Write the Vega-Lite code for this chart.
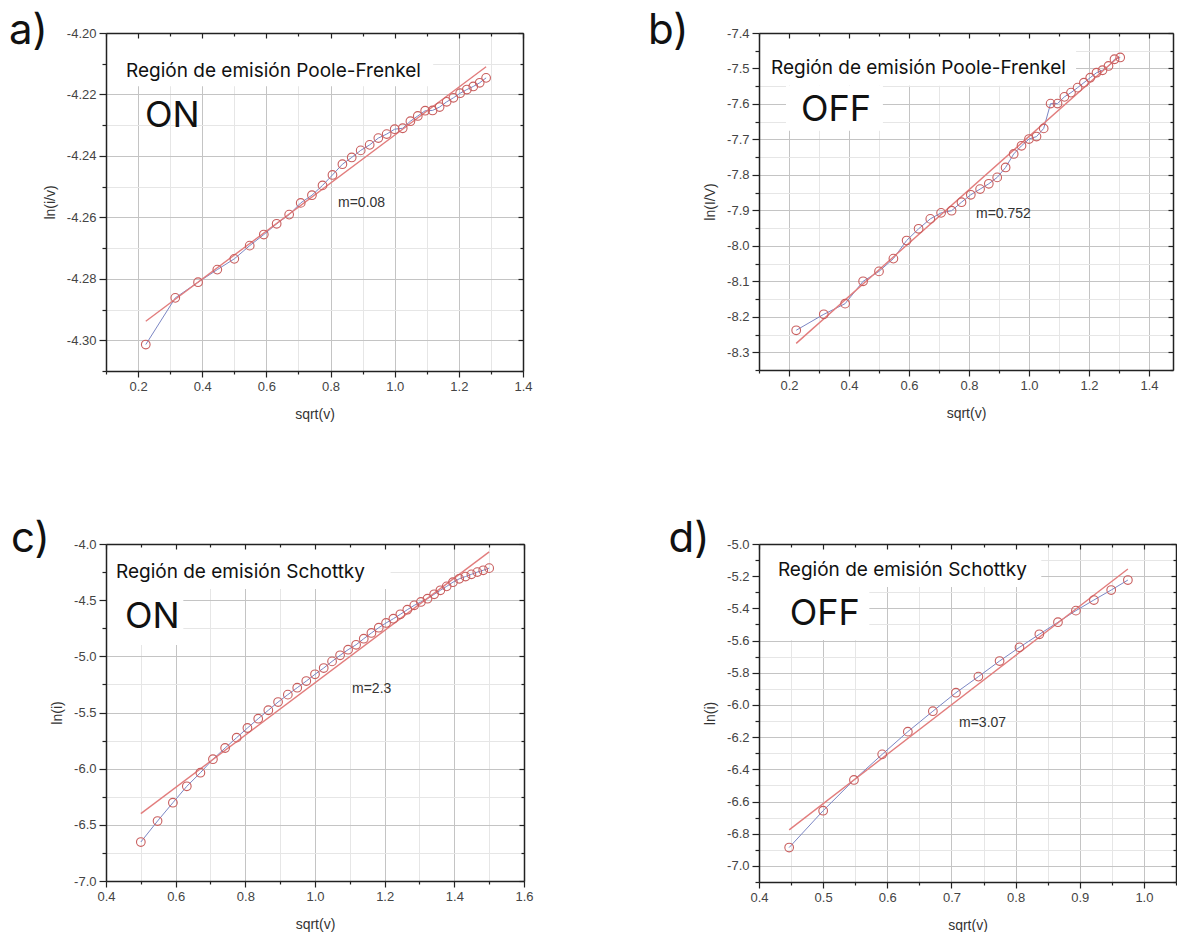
{
  "$schema": "https://vega.github.io/schema/vega-lite/v6.json",
  "background": "white",
  "autosize": {"type": "pad"},
  "padding": {"left": 8, "top": 9, "right": 0, "bottom": 0},
  "config": {
    "view": {"stroke": null},
    "axis": {
      "labelFont": "Liberation Sans", "labelFontSize": 13, "labelColor": "#444",
      "titleFont": "Liberation Sans", "titleFontSize": 14, "titleFontWeight": "normal", "titleColor": "#333",
      "domainColor": "#222", "domainWidth": 1.5, "tickColor": "#222", "tickWidth": 1.2,
      "labelFlush": false, "labelOverlap": false, "grid": false, "labelPadding": 3
    }
  },
  "datasets": {
    "aPts": [
      {"x": 0.224, "y": -4.3014}, {"x": 0.316, "y": -4.2862}, {"x": 0.387, "y": -4.2811}, {"x": 0.447, "y": -4.2770},
      {"x": 0.500, "y": -4.2735}, {"x": 0.548, "y": -4.2692}, {"x": 0.592, "y": -4.2656}, {"x": 0.632, "y": -4.2621},
      {"x": 0.671, "y": -4.2591}, {"x": 0.707, "y": -4.2553}, {"x": 0.742, "y": -4.2528}, {"x": 0.775, "y": -4.2496},
      {"x": 0.806, "y": -4.2462}, {"x": 0.837, "y": -4.2427}, {"x": 0.866, "y": -4.2405}, {"x": 0.894, "y": -4.2382},
      {"x": 0.922, "y": -4.2364}, {"x": 0.949, "y": -4.2342}, {"x": 0.975, "y": -4.2329}, {"x": 1.000, "y": -4.2313},
      {"x": 1.025, "y": -4.2310}, {"x": 1.049, "y": -4.2287}, {"x": 1.072, "y": -4.2270}, {"x": 1.095, "y": -4.2253},
      {"x": 1.118, "y": -4.2252}, {"x": 1.140, "y": -4.2241}, {"x": 1.162, "y": -4.2224}, {"x": 1.183, "y": -4.2211},
      {"x": 1.204, "y": -4.2196}, {"x": 1.225, "y": -4.2184}, {"x": 1.245, "y": -4.2174}, {"x": 1.265, "y": -4.2162},
      {"x": 1.285, "y": -4.2146}
    ],
    "aFit": [{"x": 0.224, "y": -4.2938}, {"x": 1.285, "y": -4.2110}],
    "bPts": [
      {"x": 0.224, "y": -8.238}, {"x": 0.316, "y": -8.193}, {"x": 0.387, "y": -8.163}, {"x": 0.447, "y": -8.100},
      {"x": 0.500, "y": -8.072}, {"x": 0.548, "y": -8.036}, {"x": 0.592, "y": -7.985}, {"x": 0.632, "y": -7.952},
      {"x": 0.671, "y": -7.924}, {"x": 0.707, "y": -7.907}, {"x": 0.742, "y": -7.901}, {"x": 0.775, "y": -7.877},
      {"x": 0.806, "y": -7.856}, {"x": 0.837, "y": -7.840}, {"x": 0.866, "y": -7.825}, {"x": 0.894, "y": -7.807},
      {"x": 0.922, "y": -7.779}, {"x": 0.949, "y": -7.741}, {"x": 0.975, "y": -7.718}, {"x": 1.000, "y": -7.699},
      {"x": 1.025, "y": -7.692}, {"x": 1.049, "y": -7.669}, {"x": 1.072, "y": -7.599}, {"x": 1.095, "y": -7.599},
      {"x": 1.118, "y": -7.580}, {"x": 1.140, "y": -7.568}, {"x": 1.162, "y": -7.554}, {"x": 1.183, "y": -7.540},
      {"x": 1.204, "y": -7.526}, {"x": 1.225, "y": -7.512}, {"x": 1.245, "y": -7.505}, {"x": 1.265, "y": -7.493},
      {"x": 1.285, "y": -7.474}, {"x": 1.304, "y": -7.469}
    ],
    "bFit": [{"x": 0.224, "y": -8.275}, {"x": 1.300, "y": -7.466}],
    "cPts": [
      {"x": 0.500, "y": -6.653}, {"x": 0.548, "y": -6.466}, {"x": 0.592, "y": -6.303}, {"x": 0.632, "y": -6.157},
      {"x": 0.671, "y": -6.036}, {"x": 0.707, "y": -5.916}, {"x": 0.742, "y": -5.816}, {"x": 0.775, "y": -5.724},
      {"x": 0.806, "y": -5.638}, {"x": 0.837, "y": -5.555}, {"x": 0.866, "y": -5.480}, {"x": 0.894, "y": -5.407},
      {"x": 0.922, "y": -5.341}, {"x": 0.949, "y": -5.279}, {"x": 0.975, "y": -5.220}, {"x": 1.000, "y": -5.160},
      {"x": 1.025, "y": -5.104}, {"x": 1.049, "y": -5.045}, {"x": 1.072, "y": -4.991}, {"x": 1.095, "y": -4.941},
      {"x": 1.118, "y": -4.897}, {"x": 1.140, "y": -4.843}, {"x": 1.162, "y": -4.792}, {"x": 1.183, "y": -4.745},
      {"x": 1.204, "y": -4.703}, {"x": 1.225, "y": -4.665}, {"x": 1.245, "y": -4.626}, {"x": 1.265, "y": -4.585},
      {"x": 1.285, "y": -4.546}, {"x": 1.304, "y": -4.516}, {"x": 1.323, "y": -4.487}, {"x": 1.342, "y": -4.448},
      {"x": 1.360, "y": -4.412}, {"x": 1.378, "y": -4.377}, {"x": 1.396, "y": -4.340}, {"x": 1.414, "y": -4.310},
      {"x": 1.432, "y": -4.290}, {"x": 1.449, "y": -4.270}, {"x": 1.466, "y": -4.250}, {"x": 1.483, "y": -4.234},
      {"x": 1.500, "y": -4.215}
    ],
    "cFit": [{"x": 0.500, "y": -6.40}, {"x": 1.500, "y": -4.07}],
    "dPts": [
      {"x": 0.447, "y": -6.886}, {"x": 0.500, "y": -6.657}, {"x": 0.548, "y": -6.466}, {"x": 0.592, "y": -6.307},
      {"x": 0.632, "y": -6.166}, {"x": 0.671, "y": -6.039}, {"x": 0.707, "y": -5.924}, {"x": 0.742, "y": -5.824},
      {"x": 0.775, "y": -5.727}, {"x": 0.806, "y": -5.642}, {"x": 0.837, "y": -5.561}, {"x": 0.866, "y": -5.486},
      {"x": 0.894, "y": -5.414}, {"x": 0.922, "y": -5.348}, {"x": 0.949, "y": -5.286}, {"x": 0.975, "y": -5.224}
    ],
    "dFit": [{"x": 0.447, "y": -6.776}, {"x": 0.975, "y": -5.155}]
  },
  "columns": 2,
  "spacing": {"row": 173, "column": 235},
  "bounds": "flush",
  "concat": [
    {
      "width": 417, "height": 338,
      "layer": [
        {"data": {"values": [{}]}, "mark": {"type": "rect", "color": "white"},
         "encoding": {"x": {"datum": 0.1, "type": "quantitative", "scale": {"domain": [0.1, 1.4], "nice": false, "zero": false}, "axis": null}, "x2": {"datum": 1.12},
                      "y": {"datum": -4.2173, "type": "quantitative", "scale": {"domain": [-4.31, -4.2], "nice": false, "zero": false}, "axis": null}, "y2": {"datum": -4.2}}},
        {"data": {"name": "aPts"}, "mark": {"type": "line", "color": "#7b86c4", "strokeWidth": 1},
         "encoding": {
           "x": {"field": "x", "type": "quantitative", "scale": {"domain": [0.1, 1.4], "nice": false, "zero": false},
                 "axis": {"orient": "bottom", "values": [0.1,0.2,0.3,0.4,0.5,0.6,0.7,0.8,0.9,1.0,1.1,1.2,1.3,1.4], "grid": true, "ticks": false, "labels": false, "domain": false, "title": null, "zindex": 0,
                          "gridColor": {"condition": {"test": "round(datum.value*10)%2===0", "value": "#c4c4c4"}, "value": "#e6e6e6"}}},
           "y": {"field": "y", "type": "quantitative", "scale": {"domain": [-4.31, -4.2], "nice": false, "zero": false},
                 "axis": {"orient": "left", "values": [-4.31,-4.3,-4.29,-4.28,-4.27,-4.26,-4.25,-4.24,-4.23,-4.22,-4.21,-4.2], "grid": true, "ticks": false, "labels": false, "domain": false, "title": null, "zindex": 0,
                          "gridColor": {"condition": {"test": "round(datum.value*100)%2===0", "value": "#c4c4c4"}, "value": "#e6e6e6"}}}}},
        {"data": {"name": "aFit"}, "mark": {"type": "line", "color": "#e27d7d", "strokeWidth": 1.4},
         "encoding": {
           "x": {"field": "x", "type": "quantitative", "scale": {"domain": [0.1, 1.4], "nice": false, "zero": false},
                 "axis": {"orient": "top", "values": [0.1,0.2,0.3,0.4,0.5,0.6,0.7,0.8,0.9,1.0,1.1,1.2,1.3,1.4], "labels": false, "title": null, "zindex": 1,
                          "tickSize": {"condition": {"test": "round(datum.value*10)%2===0", "value": -5}, "value": -3}}},
           "y": {"field": "y", "type": "quantitative", "scale": {"domain": [-4.31, -4.2], "nice": false, "zero": false},
                 "axis": {"orient": "right", "values": [-4.31,-4.3,-4.29,-4.28,-4.27,-4.26,-4.25,-4.24,-4.23,-4.22,-4.21,-4.2], "labels": false, "title": null, "zindex": 1,
                          "tickSize": {"condition": {"test": "round(datum.value*100)%2===0", "value": -5}, "value": -3}}}}},
        {"data": {"name": "aPts"}, "mark": {"type": "point", "shape": "circle", "filled": false, "size": 75, "color": "#c95f5f", "strokeWidth": 1.1, "opacity": 1},
         "encoding": {
           "x": {"field": "x", "type": "quantitative", "scale": {"domain": [0.1, 1.4], "nice": false, "zero": false},
                 "axis": {"orient": "bottom", "values": [0.1,0.2,0.3,0.4,0.5,0.6,0.7,0.8,0.9,1.0,1.1,1.2,1.3,1.4], "title": "sqrt(v)", "titlePadding": 14, "zindex": 1,
                          "labelExpr": "round(datum.value*10)%2===0 ? format(datum.value,'.1f') : ''",
                          "tickSize": {"condition": {"test": "round(datum.value*10)%2===0", "value": 6}, "value": 3}}},
           "y": {"field": "y", "type": "quantitative", "scale": {"domain": [-4.31, -4.2], "nice": false, "zero": false},
                 "axis": {"orient": "left", "values": [-4.31,-4.3,-4.29,-4.28,-4.27,-4.26,-4.25,-4.24,-4.23,-4.22,-4.21,-4.2], "title": "ln(i/v)", "titlePadding": 9, "zindex": 1,
                          "labelExpr": "round(datum.value*100)%2===0 ? '-' + format(abs(datum.value),'.2f') : ''",
                          "tickSize": {"condition": {"test": "round(datum.value*100)%2===0", "value": 7}, "value": 4}}}}},
        {"data": {"values": [{}]}, "mark": {"type": "text", "text": "Región de emisión Poole-Frenkel", "align": "left", "baseline": "middle", "font": "Inter", "fontSize": 19, "color": "#111"},
         "encoding": {"x": {"datum": 0.1624, "type": "quantitative", "scale": {"domain": [0.1, 1.4], "nice": false, "zero": false}, "axis": null},
                      "y": {"datum": -4.2124, "type": "quantitative", "scale": {"domain": [-4.31, -4.2], "nice": false, "zero": false}, "axis": null}}},
        {"data": {"values": [{}]}, "mark": {"type": "text", "text": "ON", "align": "left", "baseline": "middle", "font": "Inter", "fontSize": 36, "color": "#111"},
         "encoding": {"x": {"datum": 0.2216, "type": "quantitative", "scale": {"domain": [0.1, 1.4], "nice": false, "zero": false}, "axis": null},
                      "y": {"datum": -4.227, "type": "quantitative", "scale": {"domain": [-4.31, -4.2], "nice": false, "zero": false}, "axis": null}}},
        {"data": {"values": [{}]}, "mark": {"type": "text", "text": "m=0.08", "align": "left", "baseline": "middle", "font": "Liberation Sans", "fontSize": 14, "color": "#333"},
         "encoding": {"x": {"datum": 0.8233, "type": "quantitative", "scale": {"domain": [0.1, 1.4], "nice": false, "zero": false}, "axis": null},
                      "y": {"datum": -4.2553, "type": "quantitative", "scale": {"domain": [-4.31, -4.2], "nice": false, "zero": false}, "axis": null}}},
        {"data": {"values": [{}]}, "mark": {"type": "text", "text": "a)", "align": "left", "baseline": "alphabetic", "font": "Inter", "fontSize": 42, "color": "#111"},
         "encoding": {"x": {"datum": -0.2024, "type": "quantitative", "scale": {"domain": [0.1, 1.4], "nice": false, "zero": false}, "axis": null},
                      "y": {"datum": -4.2036, "type": "quantitative", "scale": {"domain": [-4.31, -4.2], "nice": false, "zero": false}, "axis": null}}}
      ],
      "resolve": {"axis": {"x": "independent", "y": "independent"}}
    },
    {
      "width": 414, "height": 337,
      "layer": [
        {"data": {"values": [{}]}, "mark": {"type": "rect", "color": "white"},
         "encoding": {"x": {"datum": 0.1, "type": "quantitative", "scale": {"domain": [0.1, 1.48], "nice": false, "zero": false}, "axis": null}, "x2": {"datum": 1.157},
                      "y": {"datum": -7.549, "type": "quantitative", "scale": {"domain": [-8.35, -7.4], "nice": false, "zero": false}, "axis": null}, "y2": {"datum": -7.4}}},
        {"data": {"values": [{}]}, "mark": {"type": "rect", "color": "white"},
         "encoding": {"x": {"datum": 0.19, "type": "quantitative", "scale": {"domain": [0.1, 1.48], "nice": false, "zero": false}, "axis": null}, "x2": {"datum": 0.513},
                      "y": {"datum": -7.6756, "type": "quantitative", "scale": {"domain": [-8.35, -7.4], "nice": false, "zero": false}, "axis": null}, "y2": {"datum": -7.549}}},
        {"data": {"name": "bPts"}, "mark": {"type": "line", "color": "#7b86c4", "strokeWidth": 1},
         "encoding": {
           "x": {"field": "x", "type": "quantitative", "scale": {"domain": [0.1, 1.48], "nice": false, "zero": false},
                 "axis": {"orient": "bottom", "values": [0.1,0.2,0.3,0.4,0.5,0.6,0.7,0.8,0.9,1.0,1.1,1.2,1.3,1.4], "grid": true, "ticks": false, "labels": false, "domain": false, "title": null, "zindex": 0,
                          "gridColor": {"condition": {"test": "round(datum.value*10)%2===0", "value": "#c4c4c4"}, "value": "#e6e6e6"}}},
           "y": {"field": "y", "type": "quantitative", "scale": {"domain": [-8.35, -7.4], "nice": false, "zero": false},
                 "axis": {"orient": "left", "values": [-8.35,-8.3,-8.25,-8.2,-8.15,-8.1,-8.05,-8.0,-7.95,-7.9,-7.85,-7.8,-7.75,-7.7,-7.65,-7.6,-7.55,-7.5,-7.45,-7.4], "grid": true, "ticks": false, "labels": false, "domain": false, "title": null, "zindex": 0,
                          "gridColor": {"condition": {"test": "round(datum.value*20)%2===0", "value": "#c4c4c4"}, "value": "#e6e6e6"}}}}},
        {"data": {"name": "bFit"}, "mark": {"type": "line", "color": "#e27d7d", "strokeWidth": 1.4},
         "encoding": {
           "x": {"field": "x", "type": "quantitative", "scale": {"domain": [0.1, 1.48], "nice": false, "zero": false},
                 "axis": {"orient": "top", "values": [0.1,0.2,0.3,0.4,0.5,0.6,0.7,0.8,0.9,1.0,1.1,1.2,1.3,1.4], "labels": false, "title": null, "zindex": 1,
                          "tickSize": {"condition": {"test": "round(datum.value*10)%2===0", "value": -5}, "value": -3}}},
           "y": {"field": "y", "type": "quantitative", "scale": {"domain": [-8.35, -7.4], "nice": false, "zero": false},
                 "axis": {"orient": "right", "values": [-8.35,-8.3,-8.25,-8.2,-8.15,-8.1,-8.05,-8.0,-7.95,-7.9,-7.85,-7.8,-7.75,-7.7,-7.65,-7.6,-7.55,-7.5,-7.45,-7.4], "labels": false, "title": null, "zindex": 1,
                          "tickSize": {"condition": {"test": "round(datum.value*20)%2===0", "value": -5}, "value": -3}}}}},
        {"data": {"name": "bPts"}, "mark": {"type": "point", "shape": "circle", "filled": false, "size": 75, "color": "#c95f5f", "strokeWidth": 1.1, "opacity": 1},
         "encoding": {
           "x": {"field": "x", "type": "quantitative", "scale": {"domain": [0.1, 1.48], "nice": false, "zero": false},
                 "axis": {"orient": "bottom", "values": [0.1,0.2,0.3,0.4,0.5,0.6,0.7,0.8,0.9,1.0,1.1,1.2,1.3,1.4], "title": "sqrt(v)", "titlePadding": 14, "zindex": 1,
                          "labelExpr": "round(datum.value*10)%2===0 ? format(datum.value,'.1f') : ''",
                          "tickSize": {"condition": {"test": "round(datum.value*10)%2===0", "value": 6}, "value": 3}}},
           "y": {"field": "y", "type": "quantitative", "scale": {"domain": [-8.35, -7.4], "nice": false, "zero": false},
                 "axis": {"orient": "left", "values": [-8.35,-8.3,-8.25,-8.2,-8.15,-8.1,-8.05,-8.0,-7.95,-7.9,-7.85,-7.8,-7.75,-7.7,-7.65,-7.6,-7.55,-7.5,-7.45,-7.4], "title": "ln(I/V)", "titlePadding": 9, "zindex": 1,
                          "labelExpr": "round(datum.value*20)%2===0 ? '-' + format(abs(datum.value),'.1f') : ''",
                          "tickSize": {"condition": {"test": "round(datum.value*20)%2===0", "value": 7}, "value": 4}}}}},
        {"data": {"values": [{}]}, "mark": {"type": "text", "text": "Región de emisión Poole-Frenkel", "align": "left", "baseline": "middle", "font": "Inter", "fontSize": 19, "color": "#111"},
         "encoding": {"x": {"datum": 0.14, "type": "quantitative", "scale": {"domain": [0.1, 1.48], "nice": false, "zero": false}, "axis": null},
                      "y": {"datum": -7.4987, "type": "quantitative", "scale": {"domain": [-8.35, -7.4], "nice": false, "zero": false}, "axis": null}}},
        {"data": {"values": [{}]}, "mark": {"type": "text", "text": "OFF", "align": "left", "baseline": "middle", "font": "Inter", "fontSize": 36, "color": "#111"},
         "encoding": {"x": {"datum": 0.24, "type": "quantitative", "scale": {"domain": [0.1, 1.48], "nice": false, "zero": false}, "axis": null},
                      "y": {"datum": -7.617, "type": "quantitative", "scale": {"domain": [-8.35, -7.4], "nice": false, "zero": false}, "axis": null}}},
        {"data": {"values": [{}]}, "mark": {"type": "text", "text": "m=0.752", "align": "left", "baseline": "middle", "font": "Liberation Sans", "fontSize": 14, "color": "#333"},
         "encoding": {"x": {"datum": 0.8233, "type": "quantitative", "scale": {"domain": [0.1, 1.48], "nice": false, "zero": false}, "axis": null},
                      "y": {"datum": -7.91, "type": "quantitative", "scale": {"domain": [-8.35, -7.4], "nice": false, "zero": false}, "axis": null}}},
        {"data": {"values": [{}]}, "mark": {"type": "text", "text": "b)", "align": "left", "baseline": "alphabetic", "font": "Inter", "fontSize": 42, "color": "#111"},
         "encoding": {"x": {"datum": -0.27, "type": "quantitative", "scale": {"domain": [0.1, 1.48], "nice": false, "zero": false}, "axis": null},
                      "y": {"datum": -7.431, "type": "quantitative", "scale": {"domain": [-8.35, -7.4], "nice": false, "zero": false}, "axis": null}}}
      ],
      "resolve": {"axis": {"x": "independent", "y": "independent"}}
    },
    {
      "width": 418, "height": 337,
      "layer": [
        {"data": {"values": [{}]}, "mark": {"type": "rect", "color": "white"},
         "encoding": {"x": {"datum": 0.4, "type": "quantitative", "scale": {"domain": [0.4, 1.6], "nice": false, "zero": false}, "axis": null}, "x2": {"datum": 1.217},
                      "y": {"datum": -4.40, "type": "quantitative", "scale": {"domain": [-7.0, -4.0], "nice": false, "zero": false}, "axis": null}, "y2": {"datum": -4.0}}},
        {"data": {"values": [{}]}, "mark": {"type": "rect", "color": "white"},
         "encoding": {"x": {"datum": 0.4, "type": "quantitative", "scale": {"domain": [0.4, 1.6], "nice": false, "zero": false}, "axis": null}, "x2": {"datum": 0.622},
                      "y": {"datum": -4.899, "type": "quantitative", "scale": {"domain": [-7.0, -4.0], "nice": false, "zero": false}, "axis": null}, "y2": {"datum": -4.40}}},
        {"data": {"name": "cPts"}, "mark": {"type": "line", "color": "#7b86c4", "strokeWidth": 1},
         "encoding": {
           "x": {"field": "x", "type": "quantitative", "scale": {"domain": [0.4, 1.6], "nice": false, "zero": false},
                 "axis": {"orient": "bottom", "values": [0.4,0.5,0.6,0.7,0.8,0.9,1.0,1.1,1.2,1.3,1.4,1.5,1.6], "grid": true, "ticks": false, "labels": false, "domain": false, "title": null, "zindex": 0,
                          "gridColor": {"condition": {"test": "round(datum.value*10)%2===0", "value": "#c4c4c4"}, "value": "#e6e6e6"}}},
           "y": {"field": "y", "type": "quantitative", "scale": {"domain": [-7.0, -4.0], "nice": false, "zero": false},
                 "axis": {"orient": "left", "values": [-7.0,-6.75,-6.5,-6.25,-6.0,-5.75,-5.5,-5.25,-5.0,-4.75,-4.5,-4.25,-4.0], "grid": true, "ticks": false, "labels": false, "domain": false, "title": null, "zindex": 0,
                          "gridColor": {"condition": {"test": "round(datum.value*4)%2===0", "value": "#c4c4c4"}, "value": "#e6e6e6"}}}}},
        {"data": {"name": "cFit"}, "mark": {"type": "line", "color": "#e27d7d", "strokeWidth": 1.4},
         "encoding": {
           "x": {"field": "x", "type": "quantitative", "scale": {"domain": [0.4, 1.6], "nice": false, "zero": false},
                 "axis": {"orient": "top", "values": [0.4,0.5,0.6,0.7,0.8,0.9,1.0,1.1,1.2,1.3,1.4,1.5,1.6], "labels": false, "title": null, "zindex": 1,
                          "tickSize": {"condition": {"test": "round(datum.value*10)%2===0", "value": -5}, "value": -3}}},
           "y": {"field": "y", "type": "quantitative", "scale": {"domain": [-7.0, -4.0], "nice": false, "zero": false},
                 "axis": {"orient": "right", "values": [-7.0,-6.75,-6.5,-6.25,-6.0,-5.75,-5.5,-5.25,-5.0,-4.75,-4.5,-4.25,-4.0], "labels": false, "title": null, "zindex": 1,
                          "tickSize": {"condition": {"test": "round(datum.value*4)%2===0", "value": -5}, "value": -3}}}}},
        {"data": {"name": "cPts"}, "mark": {"type": "point", "shape": "circle", "filled": false, "size": 75, "color": "#c95f5f", "strokeWidth": 1.1, "opacity": 1},
         "encoding": {
           "x": {"field": "x", "type": "quantitative", "scale": {"domain": [0.4, 1.6], "nice": false, "zero": false},
                 "axis": {"orient": "bottom", "values": [0.4,0.5,0.6,0.7,0.8,0.9,1.0,1.1,1.2,1.3,1.4,1.5,1.6], "title": "sqrt(v)", "titlePadding": 14, "zindex": 1,
                          "labelExpr": "round(datum.value*10)%2===0 ? format(datum.value,'.1f') : ''",
                          "tickSize": {"condition": {"test": "round(datum.value*10)%2===0", "value": 6}, "value": 3}}},
           "y": {"field": "y", "type": "quantitative", "scale": {"domain": [-7.0, -4.0], "nice": false, "zero": false},
                 "axis": {"orient": "left", "values": [-7.0,-6.75,-6.5,-6.25,-6.0,-5.75,-5.5,-5.25,-5.0,-4.75,-4.5,-4.25,-4.0], "title": "ln(i)", "titlePadding": 9, "zindex": 1,
                          "labelExpr": "round(datum.value*4)%2===0 ? '-' + format(abs(datum.value),'.1f') : ''",
                          "tickSize": {"condition": {"test": "round(datum.value*4)%2===0", "value": 7}, "value": 4}}}}},
        {"data": {"values": [{}]}, "mark": {"type": "text", "text": "Región de emisión Schottky", "align": "left", "baseline": "middle", "font": "Inter", "fontSize": 19, "color": "#111"},
         "encoding": {"x": {"datum": 0.4287, "type": "quantitative", "scale": {"domain": [0.4, 1.6], "nice": false, "zero": false}, "axis": null},
                      "y": {"datum": -4.249, "type": "quantitative", "scale": {"domain": [-7.0, -4.0], "nice": false, "zero": false}, "axis": null}}},
        {"data": {"values": [{}]}, "mark": {"type": "text", "text": "ON", "align": "left", "baseline": "middle", "font": "Inter", "fontSize": 36, "color": "#111"},
         "encoding": {"x": {"datum": 0.4545, "type": "quantitative", "scale": {"domain": [0.4, 1.6], "nice": false, "zero": false}, "axis": null},
                      "y": {"datum": -4.65, "type": "quantitative", "scale": {"domain": [-7.0, -4.0], "nice": false, "zero": false}, "axis": null}}},
        {"data": {"values": [{}]}, "mark": {"type": "text", "text": "m=2.3", "align": "left", "baseline": "middle", "font": "Liberation Sans", "fontSize": 14, "color": "#333"},
         "encoding": {"x": {"datum": 1.1063, "type": "quantitative", "scale": {"domain": [0.4, 1.6], "nice": false, "zero": false}, "axis": null},
                      "y": {"datum": -5.291, "type": "quantitative", "scale": {"domain": [-7.0, -4.0], "nice": false, "zero": false}, "axis": null}}},
        {"data": {"values": [{}]}, "mark": {"type": "text", "text": "c)", "align": "left", "baseline": "alphabetic", "font": "Inter", "fontSize": 42, "color": "#111"},
         "encoding": {"x": {"datum": 0.1272, "type": "quantitative", "scale": {"domain": [0.4, 1.6], "nice": false, "zero": false}, "axis": null},
                      "y": {"datum": -4.0712, "type": "quantitative", "scale": {"domain": [-7.0, -4.0], "nice": false, "zero": false}, "axis": null}}}
      ],
      "resolve": {"axis": {"x": "independent", "y": "independent"}}
    },
    {
      "width": 417, "height": 338,
      "layer": [
        {"data": {"values": [{}]}, "mark": {"type": "rect", "color": "white"},
         "encoding": {"x": {"datum": 0.4, "type": "quantitative", "scale": {"domain": [0.4, 1.05], "nice": false, "zero": false}, "axis": null}, "x2": {"datum": 0.84},
                      "y": {"datum": -5.267, "type": "quantitative", "scale": {"domain": [-7.1, -5.0], "nice": false, "zero": false}, "axis": null}, "y2": {"datum": -5.0}}},
        {"data": {"values": [{}]}, "mark": {"type": "rect", "color": "white"},
         "encoding": {"x": {"datum": 0.4, "type": "quantitative", "scale": {"domain": [0.4, 1.05], "nice": false, "zero": false}, "axis": null}, "x2": {"datum": 0.572},
                      "y": {"datum": -5.596, "type": "quantitative", "scale": {"domain": [-7.1, -5.0], "nice": false, "zero": false}, "axis": null}, "y2": {"datum": -5.267}}},
        {"data": {"name": "dPts"}, "mark": {"type": "line", "color": "#7b86c4", "strokeWidth": 1},
         "encoding": {
           "x": {"field": "x", "type": "quantitative", "scale": {"domain": [0.4, 1.05], "nice": false, "zero": false},
                 "axis": {"orient": "bottom", "values": [0.4,0.45,0.5,0.55,0.6,0.65,0.7,0.75,0.8,0.85,0.9,0.95,1.0,1.05], "grid": true, "ticks": false, "labels": false, "domain": false, "title": null, "zindex": 0,
                          "gridColor": {"condition": {"test": "round(datum.value*20)%2===0", "value": "#c4c4c4"}, "value": "#e6e6e6"}}},
           "y": {"field": "y", "type": "quantitative", "scale": {"domain": [-7.1, -5.0], "nice": false, "zero": false},
                 "axis": {"orient": "left", "values": [-7.1,-7.0,-6.9,-6.8,-6.7,-6.6,-6.5,-6.4,-6.3,-6.2,-6.1,-6.0,-5.9,-5.8,-5.7,-5.6,-5.5,-5.4,-5.3,-5.2,-5.1,-5.0], "grid": true, "ticks": false, "labels": false, "domain": false, "title": null, "zindex": 0,
                          "gridColor": {"condition": {"test": "round(datum.value*10)%2===0", "value": "#c4c4c4"}, "value": "#e6e6e6"}}}}},
        {"data": {"name": "dFit"}, "mark": {"type": "line", "color": "#e27d7d", "strokeWidth": 1.4},
         "encoding": {
           "x": {"field": "x", "type": "quantitative", "scale": {"domain": [0.4, 1.05], "nice": false, "zero": false},
                 "axis": {"orient": "top", "values": [0.4,0.45,0.5,0.55,0.6,0.65,0.7,0.75,0.8,0.85,0.9,0.95,1.0,1.05], "labels": false, "title": null, "zindex": 1,
                          "tickSize": {"condition": {"test": "round(datum.value*20)%2===0", "value": -5}, "value": -3}}},
           "y": {"field": "y", "type": "quantitative", "scale": {"domain": [-7.1, -5.0], "nice": false, "zero": false},
                 "axis": {"orient": "right", "values": [-7.1,-7.0,-6.9,-6.8,-6.7,-6.6,-6.5,-6.4,-6.3,-6.2,-6.1,-6.0,-5.9,-5.8,-5.7,-5.6,-5.5,-5.4,-5.3,-5.2,-5.1,-5.0], "labels": false, "title": null, "zindex": 1,
                          "tickSize": {"condition": {"test": "round(datum.value*10)%2===0", "value": -5}, "value": -3}}}}},
        {"data": {"name": "dPts"}, "mark": {"type": "point", "shape": "circle", "filled": false, "size": 75, "color": "#c95f5f", "strokeWidth": 1.1, "opacity": 1},
         "encoding": {
           "x": {"field": "x", "type": "quantitative", "scale": {"domain": [0.4, 1.05], "nice": false, "zero": false},
                 "axis": {"orient": "bottom", "values": [0.4,0.45,0.5,0.55,0.6,0.65,0.7,0.75,0.8,0.85,0.9,0.95,1.0,1.05], "title": "sqrt(v)", "titlePadding": 14, "zindex": 1,
                          "labelExpr": "round(datum.value*20)%2===0 ? format(datum.value,'.1f') : ''",
                          "tickSize": {"condition": {"test": "round(datum.value*20)%2===0", "value": 6}, "value": 3}}},
           "y": {"field": "y", "type": "quantitative", "scale": {"domain": [-7.1, -5.0], "nice": false, "zero": false},
                 "axis": {"orient": "left", "values": [-7.1,-7.0,-6.9,-6.8,-6.7,-6.6,-6.5,-6.4,-6.3,-6.2,-6.1,-6.0,-5.9,-5.8,-5.7,-5.6,-5.5,-5.4,-5.3,-5.2,-5.1,-5.0], "title": "ln(i)", "titlePadding": 9, "zindex": 1,
                          "labelExpr": "round(datum.value*10)%2===0 ? '-' + format(abs(datum.value),'.1f') : ''",
                          "tickSize": {"condition": {"test": "round(datum.value*10)%2===0", "value": 7}, "value": 4}}}}},
        {"data": {"values": [{}]}, "mark": {"type": "text", "text": "Región de emisión Schottky", "align": "left", "baseline": "middle", "font": "Inter", "fontSize": 19, "color": "#111"},
         "encoding": {"x": {"datum": 0.4295, "type": "quantitative", "scale": {"domain": [0.4, 1.05], "nice": false, "zero": false}, "axis": null},
                      "y": {"datum": -5.1615, "type": "quantitative", "scale": {"domain": [-7.1, -5.0], "nice": false, "zero": false}, "axis": null}}},
        {"data": {"values": [{}]}, "mark": {"type": "text", "text": "OFF", "align": "left", "baseline": "middle", "font": "Inter", "fontSize": 36, "color": "#111"},
         "encoding": {"x": {"datum": 0.448, "type": "quantitative", "scale": {"domain": [0.4, 1.05], "nice": false, "zero": false}, "axis": null},
                      "y": {"datum": -5.438, "type": "quantitative", "scale": {"domain": [-7.1, -5.0], "nice": false, "zero": false}, "axis": null}}},
        {"data": {"values": [{}]}, "mark": {"type": "text", "text": "m=3.07", "align": "left", "baseline": "middle", "font": "Liberation Sans", "fontSize": 14, "color": "#333"},
         "encoding": {"x": {"datum": 0.7118, "type": "quantitative", "scale": {"domain": [0.4, 1.05], "nice": false, "zero": false}, "axis": null},
                      "y": {"datum": -6.112, "type": "quantitative", "scale": {"domain": [-7.1, -5.0], "nice": false, "zero": false}, "axis": null}}},
        {"data": {"values": [{}]}, "mark": {"type": "text", "text": "d)", "align": "left", "baseline": "alphabetic", "font": "Inter", "fontSize": 42, "color": "#111"},
         "encoding": {"x": {"datum": 0.2588, "type": "quantitative", "scale": {"domain": [0.4, 1.05], "nice": false, "zero": false}, "axis": null},
                      "y": {"datum": -5.0497, "type": "quantitative", "scale": {"domain": [-7.1, -5.0], "nice": false, "zero": false}, "axis": null}}}
      ],
      "resolve": {"axis": {"x": "independent", "y": "independent"}}
    }
  ]
}
